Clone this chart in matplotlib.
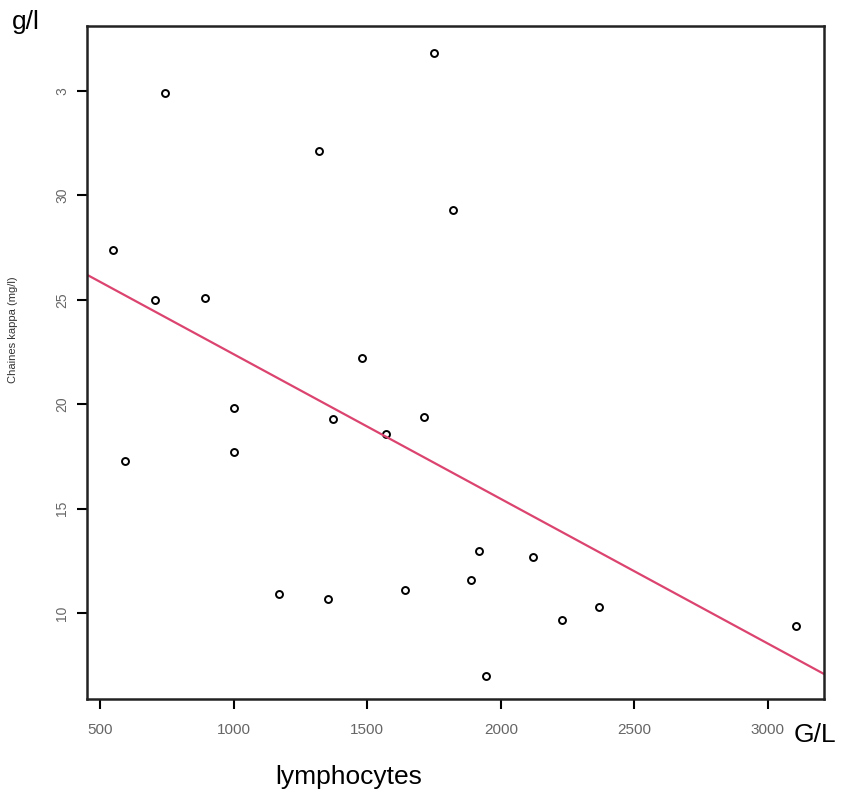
import matplotlib
matplotlib.use("Agg")
import matplotlib.pyplot as plt

plt.rcParams['font.family'] = ['Liberation Sans', 'DejaVu Sans']

# lymphocytes (G/L) vs Chaines kappa (mg/l)
lymphocytes = [1750, 743, 1320, 1821, 549, 706, 893, 1481, 1002, 1713, 1372, 1571,
               1002, 594, 1919, 2121, 1889, 1642, 1170, 1353, 2368, 2229, 3105, 1945]
kappa = [36.8, 34.9, 32.1, 29.3, 27.4, 25.0, 25.1, 22.2, 19.8, 19.4, 19.3, 18.6,
         17.7, 17.3, 13.0, 12.7, 11.6, 11.1, 10.9, 10.7, 10.3, 9.7, 9.4, 7.0]

# droite de regression
fit_intercept = 29.32
fit_slope = -0.006923

x_ticks = [500, 1000, 1500, 2000, 2500, 3000]
y_ticks = [10, 15, 20, 25, 30, 35]
y_tick_labels = ['10', '15', '20', '25', '30', '3']

fig = plt.figure(figsize=(8.44, 8.0), dpi=100)
ax = fig.add_axes([0.1031, 0.12625, 0.8732, 0.84125])

ax.plot(lymphocytes, kappa, 'o', mfc='none', mec='black', ms=5, mew=1.4)

x0, x1 = 451, 3210
ax.plot([x0, x1], [fit_intercept + fit_slope * x0, fit_intercept + fit_slope * x1],
        color='#dc4470', lw=1.6)

ax.set_xlim(x0, x1)
ax.set_ylim(5.9, 38.1)
ax.set_xticks(x_ticks)
ax.set_yticks(y_ticks)
ax.set_yticklabels(y_tick_labels, rotation=90, va='center')
ax.tick_params(axis='x', length=7, width=1.5, pad=10, labelsize=11, labelcolor='#666666')
ax.tick_params(axis='y', length=7, width=1.5, pad=6, labelsize=10, labelcolor='#666666')
for s in ax.spines.values():
    s.set_linewidth(1.8)
    s.set_color('#222222')

fig.text(13 / 844, 1 - 330 / 800, 'Chaines kappa (mg/l)', rotation=90, fontsize=8,
         color='#333333', ha='center', va='center')
fig.text(12 / 844, 1 - 22 / 800, 'g/l', fontsize=19, ha='left', va='center')
fig.text(794 / 844, 1 - 735 / 800, 'G/L', fontsize=19, ha='left', va='center')
fig.text(275 / 844, 1 - 777 / 800, 'lymphocytes', fontsize=19, ha='left', va='center')

fig.savefig('out.png', dpi=100)
